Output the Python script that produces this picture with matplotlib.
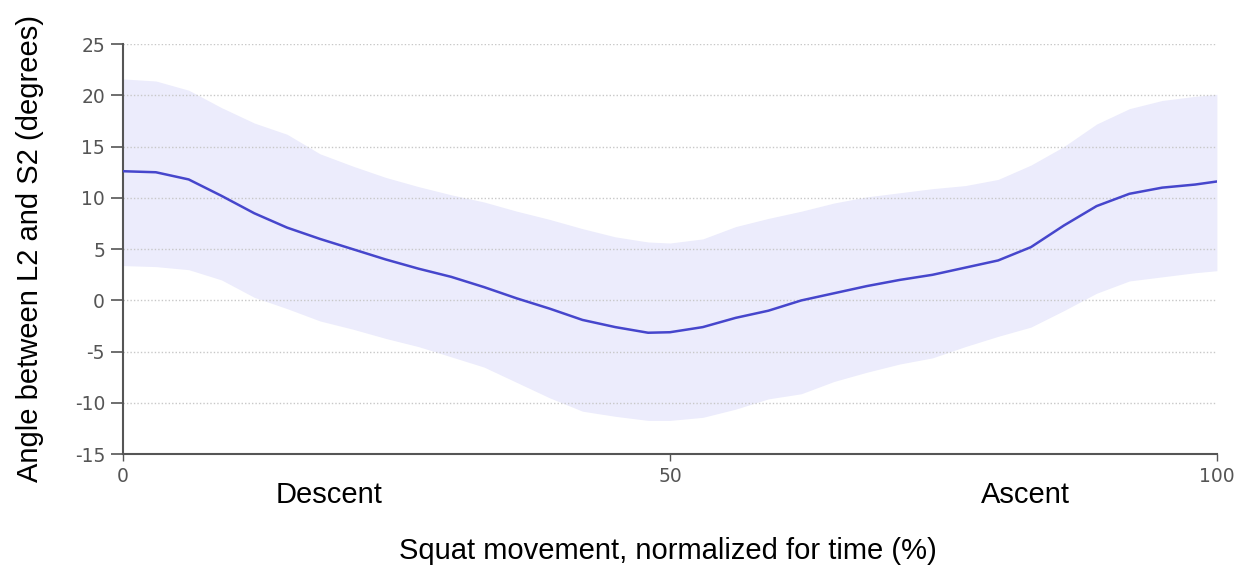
'''
Squat movement: L2-S2 angle, mean with band
'''

import numpy as np
import matplotlib.pyplot as plt

plt.rcParams['axes.unicode_minus'] = False

# percent of squat movement
pct = [0, 3, 6, 9, 12, 15, 18, 21, 24, 27, 30, 33, 36, 39, 42, 45, 48, 50,
       53, 56, 59, 62, 65, 68, 71, 74, 77, 80, 83, 86, 89, 92, 95, 98, 100]

mean_angle = [12.6, 12.5, 11.8, 10.2, 8.5, 7.1, 6.0, 5.0, 4.0, 3.1, 2.3, 1.3, 0.2,
              -0.8, -1.9, -2.6, -3.15, -3.1, -2.6, -1.7, -1.0, 0.0, 0.7, 1.4, 2.0,
              2.5, 3.2, 3.9, 5.2, 7.3, 9.2, 10.4, 11.0, 11.3, 11.6]

upper = [21.6, 21.4, 20.5, 18.8, 17.3, 16.2, 14.3, 13.1, 12.0, 11.1, 10.3, 9.6, 8.7,
         7.9, 7.0, 6.2, 5.7, 5.6, 6.0, 7.2, 8.0, 8.7, 9.5, 10.1, 10.5, 10.9, 11.2,
         11.8, 13.2, 15.0, 17.2, 18.7, 19.5, 19.9, 20.1]

lower = [3.4, 3.3, 3.0, 2.0, 0.3, -0.8, -2.0, -2.8, -3.7, -4.5, -5.5, -6.5, -8.0,
         -9.5, -10.8, -11.3, -11.7, -11.7, -11.4, -10.6, -9.6, -9.1, -7.9, -7.0,
         -6.2, -5.6, -4.5, -3.5, -2.6, -1.0, 0.7, 1.9, 2.3, 2.7, 2.9]

yticks = [-15, -10, -5, 0, 5, 10, 15, 20, 25]
xticks = [0, 50, 100]

fig = plt.figure(figsize=(12.43, 5.65), dpi=100)
ax = fig.add_axes([0.099, 0.196, 0.88, 0.726])

ax.fill_between(pct, lower, upper, color='#ececfc', lw=0, zorder=1)
ax.plot(pct, mean_angle, color='#4646cc', lw=1.8, zorder=3)

ax.set_xlim(0, 100)
ax.set_ylim(-15, 25)
ax.set_yticks(yticks)
ax.set_xticks(xticks)

for y in yticks[1:]:
    ax.axhline(y, color='#c8c8c8', lw=1.0, ls=(0, (1, 1.5)), zorder=2)

for s in ['top', 'right']:
    ax.spines[s].set_visible(False)
for s in ['left', 'bottom']:
    ax.spines[s].set_color('#555555')
    ax.spines[s].set_linewidth(1.5)

tickfont = ['Liberation Sans Narrow', 'DejaVu Sans']
ax.tick_params(axis='y', length=9, width=1.2, color='#555555', labelcolor='#555555',
               labelsize=13.5, pad=4)
ax.tick_params(axis='x', length=5, width=1, color='#555555', labelcolor='#555555',
               labelsize=13.5, pad=4)
for lab in ax.get_xticklabels() + ax.get_yticklabels():
    lab.set_family(tickfont)

fig.text(0.024, 0.561, 'Angle between L2 and S2 (degrees)', fontsize=21,
         family='Liberation Sans', rotation=90, ha='center', va='center')
fig.text(0.265, 0.124, 'Descent', fontsize=21, family='Liberation Sans',
         ha='center', va='center')
fig.text(0.825, 0.124, 'Ascent', fontsize=21, family='Liberation Sans',
         ha='center', va='center')
fig.text(0.537, 0.025, 'Squat movement, normalized for time (%)', fontsize=21,
         family='Liberation Sans', ha='center', va='center')

plt.savefig('out.png', dpi=100, format='png')
